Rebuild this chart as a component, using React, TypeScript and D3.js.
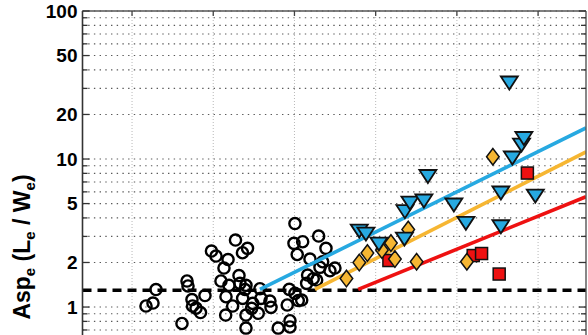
import React from "react";
import * as d3 from "d3";

// ---------- data ----------
const circleX = [0.172, 0.258, 0.295, 0.615, 0.677, 0.689, 0.738, 0.745, 0.788, 0.843, 0.898, 0.978, 1.034, 1.182, 1.132, 1.274, 1.422, 1.36, 1.095, 1.194, 1.317, 1.329, 1.403, 1.157, 1.362, 1.239, 1.153, 1.403, 1.486, 1.473, 1.575, 1.588, 1.554, 1.698, 1.711, 1.403, 1.8, 1.945, 1.945, 1.911, 1.936, 2.006, 2.047, 2.006, 1.994, 2.101, 2.034, 2.191, 2.298, 2.388, 2.314, 2.437, 2.162, 2.231, 2.15, 2.273, 1.391, 2.347, 2.498, 2.089];
const circleY = [1.016, 1.064, 1.313, 0.774, 1.499, 1.387, 1.124, 1.016, 0.984, 0.918, 1.196, 2.39, 2.21, 2.094, 1.834, 2.836, 2.493, 2.327, 1.499, 1.402, 1.632, 1.446, 1.402, 1.174, 1.145, 1.016, 0.883, 0.883, 1.059, 0.98, 1.329, 1.145, 0.907, 1.098, 0.995, 0.721, 0.721, 0.808, 0.733, 1.032, 1.317, 1.238, 1.106, 3.666, 2.694, 2.762, 2.264, 2.11, 3.018, 2.493, 1.855, 1.759, 1.645, 1.553, 1.446, 1.522, 1.313, 2.023, 1.834, 1.115];

const triX = [2.798, 2.88, 3.04, 3.354, 3.36, 3.422, 3.594, 3.643, 3.963, 4.111, 4.542, 4.542, 4.683, 4.796, 4.825, 4.966, 4.646];
const triY = [3.262, 3.113, 2.665, 2.88, 4.405, 5.043, 5.203, 7.617, 4.89, 3.678, 5.893, 3.487, 10.16, 12.43, 13.76, 5.623, 32.62];

const diaX = [4.443, 2.64, 2.798, 2.898, 3.077, 3.188, 3.237, 3.401, 3.504, 4.123];
const diaY = [10.36, 1.558, 1.998, 2.316, 2.427, 2.706, 2.11, 3.339, 2.023, 2.023];

const sqX = [4.868, 4.201, 4.304, 4.521, 3.163];
const sqY = [8.04, 2.228, 2.299, 1.671, 2.062];

// fitted lines: log10(y) = a + b*x, drawn from xStart to xEnd
const fitNames = ["blue", "orange", "red"];
const fitA = [-0.3082, -0.5064, -0.5017];
const fitB = [0.2716, 0.278, 0.2231];
const fitXStart = [1.575, 2.252, 2.785];
const fitXEnd = [5.59, 5.59, 5.59];
const thresholdY = 1.3;

const xTicks = [0, 1, 2, 3, 4, 5];
const yTickLabels = [1, 2, 5, 10, 20, 50, 100];

// ---------- styles ----------
const W = 588;
const H = 335;
const BLUE = "#27A9E1";
const ORANGE = "#F6B632";
const RED = "#EE1111";

export default function App() {
  const x = d3.scaleLinear().domain([-0.61, 5.59]).range([82.5, 586]);
  const y = d3.scaleLog().domain([0.5, 100]).range([351.6, 11]);
  const [x0, x1] = x.range();
  const yTop = 11;
  const yBot = 351.6;

  const minorVals: number[] = [];
  [0.1, 1, 10].forEach((dec) => {
    for (let k = 1; k <= 9; k++) {
      const v = +(dec * k).toFixed(3);
      if (v >= 0.5 && v <= 100) minorVals.push(v);
    }
  });
  minorVals.push(100);

  const line = d3
    .line<[number, number]>()
    .x((d) => x(d[0]))
    .y((d) => y(d[1]));

  const triPath = (cx: number, cy: number) => {
    const w = 8.5, h = 6.5;
    return `M${cx - w},${cy - h}L${cx + w},${cy - h}L${cx},${cy + h}Z`;
  };
  const diaPath = (cx: number, cy: number) => {
    const w = 6.3, h = 8.3;
    return `M${cx},${cy - h}L${cx + w},${cy}L${cx},${cy + h}L${cx - w},${cy}Z`;
  };

  return (
    <div style={{ position: "fixed", left: 0, top: 0, width: W, height: H, background: "#fff" }}>
      <svg width={W} height={H} style={{ display: "block" }} fontFamily="'Liberation Sans', Arial, Helvetica, sans-serif">
        <defs>
          <clipPath id="plot">
            <rect x={x0} y={yTop} width={x1 - x0} height={yBot - yTop} />
          </clipPath>
        </defs>
        <rect x={0} y={0} width={W} height={H} fill="#fff" />

        {/* grid */}
        {minorVals.map((v) => (
          <line key={"hg" + v} x1={x0} x2={x1} y1={y(v)} y2={y(v)} stroke="#5a5a5a" strokeWidth={1.1} strokeDasharray="1.4,4.3" />
        ))}
        {xTicks.map((t) => (
          <line key={"vg" + t} x1={x(t)} x2={x(t)} y1={yTop} y2={yBot} stroke="#b8b8b8" strokeWidth={1} strokeDasharray="1,2" />
        ))}

        {/* threshold */}
        <line x1={x0} x2={x1} y1={y(thresholdY)} y2={y(thresholdY)} stroke="#000" strokeWidth={3.5} strokeDasharray="9,6" />

        <g clipPath="url(#plot)">
          {/* circles */}
          {circleX.map((cx, i) => (
            <circle key={"c" + i} cx={x(cx)} cy={y(circleY[i])} r={5.6} fill="none" stroke="#000" strokeWidth={2.4} />
          ))}

          {/* fit lines */}
          {fitNames.map((n, i) => {
            const pts: [number, number][] = [fitXStart[i], fitXEnd[i]].map((xx) => [xx, Math.pow(10, fitA[i] + fitB[i] * xx)]);
            const col = n === "blue" ? BLUE : n === "orange" ? ORANGE : RED;
            return <path key={n} d={line(pts) || ""} fill="none" stroke={col} strokeWidth={3.6} />;
          })}

          {/* squares */}
          {sqX.map((sx, i) => (
            <rect key={"s" + i} x={x(sx) - 6} y={y(sqY[i]) - 6} width={12} height={12} fill={RED} stroke="#111" strokeWidth={1.5} />
          ))}
          {/* diamonds */}
          {diaX.map((dx, i) => (
            <path key={"d" + i} d={diaPath(x(dx), y(diaY[i]))} fill={ORANGE} stroke="#111" strokeWidth={1.5} />
          ))}
          {/* triangles */}
          {triX.map((tx, i) => (
            <path key={"t" + i} d={triPath(x(tx), y(triY[i]))} fill={BLUE} stroke="#111" strokeWidth={1.8} strokeLinejoin="miter" />
          ))}
        </g>

        {/* frame */}
        <line x1={x0} x2={x0} y1={yTop} y2={H} stroke="#333" strokeWidth={1.6} />
        <line x1={x1} x2={x1} y1={yTop} y2={H} stroke="#555" strokeWidth={1.4} />
        <line x1={x0} x2={x1} y1={yTop} y2={yTop} stroke="#555" strokeWidth={1.6} />

        {/* y ticks */}
        {minorVals.map((v) => {
          const major = yTickLabels.includes(v) || v === 1 || v === 10;
          const len = major ? 7 : 5;
          return (
            <g key={"yt" + v}>
              <line x1={x0} x2={x0 + len} y1={y(v)} y2={y(v)} stroke="#333" strokeWidth={1.3} />
              <line x1={x1} x2={x1 - len} y1={y(v)} y2={y(v)} stroke="#333" strokeWidth={1.3} />
            </g>
          );
        })}
        {/* x ticks on top */}
        {xTicks.map((t) => (
          <line key={"xt" + t} x1={x(t)} x2={x(t)} y1={yTop} y2={yTop + 5} stroke="#444" strokeWidth={1.3} />
        ))}

        {/* y tick labels */}
        {yTickLabels.map((v) => (
          <text key={"yl" + v} x={77.5} y={y(v)} dy="0.36em" textAnchor="end" fontSize={19} fontWeight="bold" fill="#000">
            {v}
          </text>
        ))}

        {/* y axis label */}
        <text transform="translate(30,247) rotate(-90)" textAnchor="middle" fontSize={23} fontWeight="bold" fill="#000">
          <tspan>Asp</tspan>
          <tspan dy={5} fontSize={15}>e</tspan>
          <tspan dy={-5}> (L</tspan>
          <tspan dy={5} fontSize={15}>e</tspan>
          <tspan dy={-5}> / W</tspan>
          <tspan dy={5} fontSize={15}>e</tspan>
          <tspan dy={-5}>)</tspan>
        </text>
      </svg>
    </div>
  );
}
